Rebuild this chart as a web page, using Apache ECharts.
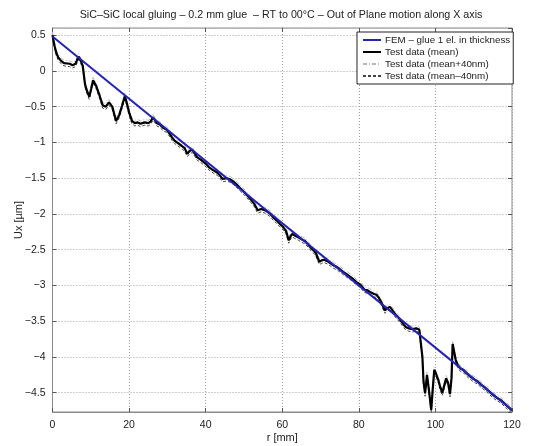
<!DOCTYPE html>
<html>
<head>
<meta charset="utf-8">
<script src="https://cdn.jsdelivr.net/npm/echarts@6/dist/echarts.min.js"></script>
<style>
  html, body { margin: 0; padding: 0; background: #fff; }
  #chart { width: 549px; height: 446px; }
</style>
</head>
<body>
<div id="chart"></div>
<script>
// Radial position r [mm]
const testR = [0,0.5,1,1.5,2.25,3,3.5,4.5,5.25,6,
  6.8,7.4,7.9,8.5,9,9.6,10.1,10.6,11.4,12.2,
  13.1,13.9,14.75,15.6,16.1,16.6,17.4,18.2,18.9,19.4,
  20,20.75,21.5,22.25,23,24,25,25.6,26.25,26.8,
  27.25,28,29,29.75,30.5,31.2,31.8,32.5,33,33.8,
  34.5,35.2,35.8,36.5,37.2,37.8,38.7,39.6,40.3,40.9,
  42,43,43.7,44.4,45.5,46.5,47.3,48.3,49.2,50,
  51,51.8,52.7,53.6,54.5,55.6,56.9,57.7,58.5,59.4,
  60.2,61,61.7,62.2,62.6,63.5,64.3,65.2,66,66.8,
  67.6,68.2,68.8,69.3,69.7,70.3,70.9,71.8,72.6,73.4,
  74.2,75,75.9,77,78.3,79.3,80.4,81.5,82.3,83.2,
  84,84.6,85.2,86,86.8,87.4,88.1,88.8,89.6,90.5,
  91.3,92.2,93,94,95,95.8,96.3,96.6,96.9,97.3,
  97.8,98.3,98.9,99.3,99.7,100.2,100.8,101.3,101.8,102.3,
  102.8,103.3,103.8,104.2,104.5,104.9,105.3,105.8,106.5,107.3,
  108,109,110,111,112,113,114,115,116,117,
  118,119,120];

// Measured out-of-plane displacement Ux [µm], mean
const testMean = [0.50,0.36,0.25,0.19,0.14,0.11,0.09,0.10,0.08,0.10,
  0.20,0.14,0.07,-0.19,-0.28,-0.36,-0.25,-0.13,-0.21,-0.33,
  -0.48,-0.50,-0.44,-0.50,-0.60,-0.70,-0.62,-0.48,-0.35,-0.45,
  -0.58,-0.70,-0.73,-0.72,-0.74,-0.72,-0.73,-0.71,-0.65,-0.69,
  -0.73,-0.75,-0.80,-0.82,-0.87,-0.93,-0.97,-1.00,-1.02,-1.05,
  -1.08,-1.16,-1.12,-1.10,-1.16,-1.21,-1.24,-1.28,-1.31,-1.35,
  -1.39,-1.42,-1.46,-1.51,-1.50,-1.52,-1.55,-1.60,-1.65,-1.69,
  -1.75,-1.80,-1.86,-1.95,-1.93,-1.95,-2.00,-2.05,-2.09,-2.14,
  -2.18,-2.24,-2.37,-2.31,-2.28,-2.31,-2.33,-2.36,-2.38,-2.43,
  -2.48,-2.51,-2.55,-2.62,-2.67,-2.65,-2.64,-2.66,-2.69,-2.72,
  -2.74,-2.77,-2.81,-2.85,-2.90,-2.95,-2.99,-3.06,-3.07,-3.10,
  -3.12,-3.13,-3.17,-3.25,-3.35,-3.32,-3.30,-3.35,-3.41,-3.46,
  -3.52,-3.58,-3.60,-3.61,-3.60,-3.62,-3.64,-4.00,-4.35,-4.51,
  -4.25,-4.46,-4.74,-4.45,-4.18,-4.24,-4.33,-4.43,-4.50,-4.40,
  -4.30,-4.36,-4.52,-4.30,-3.82,-3.84,-4.04,-4.11,-4.16,-4.18,
  -4.22,-4.27,-4.31,-4.34,-4.39,-4.43,-4.48,-4.53,-4.57,-4.60,
  -4.65,-4.70,-4.75];

// Mean + 40 nm
const testPlus = [0.54,0.40,0.29,0.23,0.18,0.15,0.13,0.14,0.12,0.14,
  0.24,0.18,0.11,-0.15,-0.24,-0.32,-0.21,-0.09,-0.17,-0.29,
  -0.44,-0.46,-0.40,-0.46,-0.56,-0.66,-0.58,-0.44,-0.31,-0.41,
  -0.54,-0.66,-0.69,-0.68,-0.70,-0.68,-0.69,-0.67,-0.61,-0.65,
  -0.69,-0.71,-0.76,-0.78,-0.83,-0.89,-0.93,-0.96,-0.98,-1.01,
  -1.04,-1.12,-1.08,-1.06,-1.12,-1.17,-1.20,-1.24,-1.27,-1.31,
  -1.35,-1.38,-1.42,-1.47,-1.46,-1.48,-1.51,-1.56,-1.61,-1.65,
  -1.71,-1.76,-1.82,-1.91,-1.89,-1.91,-1.96,-2.01,-2.05,-2.10,
  -2.14,-2.20,-2.33,-2.27,-2.24,-2.27,-2.29,-2.32,-2.34,-2.39,
  -2.44,-2.47,-2.51,-2.58,-2.63,-2.61,-2.60,-2.62,-2.65,-2.68,
  -2.70,-2.73,-2.77,-2.81,-2.86,-2.91,-2.95,-3.02,-3.03,-3.06,
  -3.08,-3.09,-3.13,-3.21,-3.31,-3.28,-3.26,-3.31,-3.37,-3.42,
  -3.48,-3.54,-3.56,-3.57,-3.56,-3.58,-3.60,-3.96,-4.31,-4.47,
  -4.21,-4.42,-4.70,-4.41,-4.14,-4.20,-4.29,-4.39,-4.46,-4.36,
  -4.26,-4.32,-4.48,-4.26,-3.78,-3.80,-4.00,-4.07,-4.12,-4.14,
  -4.18,-4.23,-4.27,-4.30,-4.35,-4.39,-4.44,-4.49,-4.53,-4.56,
  -4.61,-4.66,-4.71];

// Mean - 40 nm
const testMinus = [0.46,0.32,0.21,0.15,0.10,0.07,0.05,0.06,0.04,0.06,
  0.16,0.10,0.03,-0.23,-0.32,-0.40,-0.29,-0.17,-0.25,-0.37,
  -0.52,-0.54,-0.48,-0.54,-0.64,-0.74,-0.66,-0.52,-0.39,-0.49,
  -0.62,-0.74,-0.77,-0.76,-0.78,-0.76,-0.77,-0.75,-0.69,-0.73,
  -0.77,-0.79,-0.84,-0.86,-0.91,-0.97,-1.01,-1.04,-1.06,-1.09,
  -1.12,-1.20,-1.16,-1.14,-1.20,-1.25,-1.28,-1.32,-1.35,-1.39,
  -1.43,-1.46,-1.50,-1.55,-1.54,-1.56,-1.59,-1.64,-1.69,-1.73,
  -1.79,-1.84,-1.90,-1.99,-1.97,-1.99,-2.04,-2.09,-2.13,-2.18,
  -2.22,-2.28,-2.41,-2.35,-2.32,-2.35,-2.37,-2.40,-2.42,-2.47,
  -2.52,-2.55,-2.59,-2.66,-2.71,-2.69,-2.68,-2.70,-2.73,-2.76,
  -2.78,-2.81,-2.85,-2.89,-2.94,-2.99,-3.03,-3.10,-3.11,-3.14,
  -3.16,-3.17,-3.21,-3.29,-3.39,-3.36,-3.34,-3.39,-3.45,-3.50,
  -3.56,-3.62,-3.64,-3.65,-3.64,-3.66,-3.68,-4.04,-4.39,-4.55,
  -4.29,-4.50,-4.78,-4.49,-4.22,-4.28,-4.37,-4.47,-4.54,-4.44,
  -4.34,-4.40,-4.56,-4.34,-3.86,-3.88,-4.08,-4.15,-4.20,-4.22,
  -4.26,-4.31,-4.35,-4.38,-4.43,-4.47,-4.52,-4.57,-4.61,-4.64,
  -4.69,-4.74,-4.79];

// FEM prediction (glue modelled with 1 element through thickness)
const femR = [0, 120];
const femUx = [0.48, -4.74];

const seriesNames = [
  'FEM – glue 1 el. in thickness',
  'Test data (mean)',
  'Test data (mean+40nm)',
  'Test data (mean–40nm)'
];

const pairs = (xs, ys) => xs.map((x, i) => [x, ys[i]]);
const FONT = '"Liberation Sans", Arial, sans-serif';
const minusSign = v => String(v).replace('-', '−');

const chart = echarts.init(document.getElementById('chart'), null, { renderer: 'canvas' });

const gridLine = { show: true, lineStyle: { color: '#a0a0a0', type: [1, 2], width: 1 } };
const innerTick = { show: true, inside: true, length: 4, lineStyle: { color: '#555' } };

chart.setOption({
  animation: false,
  backgroundColor: '#fff',
  title: {
    text: 'SiC–SiC local gluing – 0.2 mm glue  – RT to 00°C – Out of Plane motion along X axis',
    left: 276, top: 5, textAlign: 'center',
    textStyle: { fontFamily: FONT, fontSize: 10.7, fontWeight: 'normal', color: '#222' }
  },
  legend: {
    orient: 'vertical',
    left: 357, top: 32,
    backgroundColor: '#fff',
    borderColor: '#222', borderWidth: 1,
    padding: [3, 3, 3, 5],
    itemGap: 2,
    itemWidth: 18, itemHeight: 9,
    itemStyle: { opacity: 0 },
    textStyle: { fontFamily: FONT, fontSize: 9.8, color: '#222', padding: [0, 0, 0, -1] },
    data: seriesNames
  },
  grid: {
    left: 52.5, right: 37, top: 28, bottom: 34,
    outerBoundsMode: 'none', containLabel: false,
    show: true, borderColor: '#8a8a8a', borderWidth: 1
  },
  xAxis: [{
    type: 'value', min: 0, max: 120, interval: 20,
    name: 'r [mm]', nameLocation: 'middle', nameGap: 20, nameMoveOverlap: false,
    nameTextStyle: { fontFamily: FONT, fontSize: 11, color: '#222' },
    axisLine: { show: true, onZero: false, lineStyle: { color: '#8a8a8a' } },
    axisTick: innerTick,
    axisLabel: { margin: 8, fontFamily: FONT, fontSize: 10.5, color: '#222' },
    splitLine: gridLine
  }, {
    type: 'value', position: 'top', min: 0, max: 120, interval: 20,
    axisLine: { show: false, onZero: false },
    axisTick: innerTick,
    axisLabel: { show: false }, splitLine: { show: false }
  }],
  yAxis: [{
    type: 'value', min: -4.77, max: 0.6, splitNumber: 11,
    name: 'Ux [µm]', nameLocation: 'middle', nameGap: 28, nameRotate: 90, nameMoveOverlap: false,
    nameTextStyle: { fontFamily: FONT, fontSize: 11, color: '#222' },
    axisLine: { show: true, onZero: false, lineStyle: { color: '#8a8a8a' } },
    axisTick: innerTick,
    axisLabel: { margin: 7, fontFamily: FONT, fontSize: 10.5, color: '#222',
      showMinLabel: false, showMaxLabel: false, formatter: minusSign },
    splitLine: gridLine
  }, {
    type: 'value', position: 'right', min: -4.77, max: 0.6, splitNumber: 11,
    axisLine: { show: false, onZero: false },
    axisTick: innerTick,
    axisLabel: { show: false }, splitLine: { show: false }
  }],
  series: [
    {
      name: seriesNames[0], type: 'line', data: pairs(femR, femUx),
      showSymbol: false, symbol: 'none', z: 5,
      lineStyle: { color: '#2323b4', width: 2 }, itemStyle: { color: '#2323b4' }
    },
    {
      name: seriesNames[1], type: 'line', data: pairs(testR, testMean),
      showSymbol: false, symbol: 'none', z: 4,
      lineStyle: { color: '#000', width: 2.2 }, itemStyle: { color: '#000' }
    },
    {
      name: seriesNames[2], type: 'line', data: pairs(testR, testPlus),
      showSymbol: false, symbol: 'none', z: 3,
      lineStyle: { color: '#b8b8b8', width: 1, type: [4, 2, 1, 2] }, itemStyle: { color: '#b8b8b8' }
    },
    {
      name: seriesNames[3], type: 'line', data: pairs(testR, testMinus),
      showSymbol: false, symbol: 'none', z: 3,
      lineStyle: { color: '#444', width: 1, type: [3, 2] }, itemStyle: { color: '#444' }
    }
  ]
});
</script>
</body>
</html>
